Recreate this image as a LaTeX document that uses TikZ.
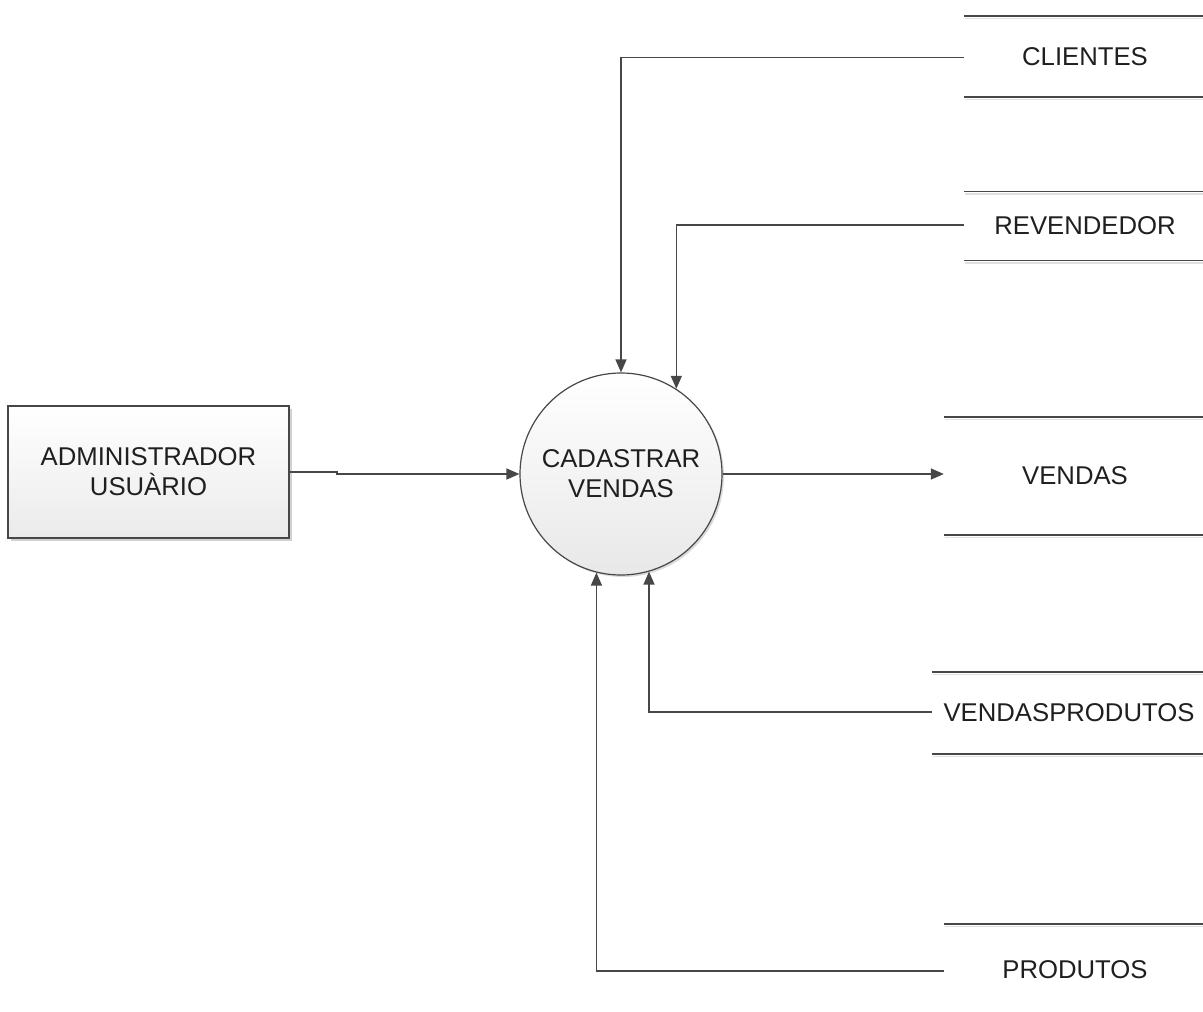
\documentclass[tikz,border=0pt]{standalone}
\usepackage{fontspec}
\setmainfont{Liberation Sans}
\usetikzlibrary{arrows.meta,shadows,calc}
\begin{document}
\begin{tikzpicture}[x=1pt,y=-1pt,
  line/.style={draw=black!72,line width=1.5pt},
  flow/.style={line,-{Triangle[length=13pt,width=11pt]}},
  txt/.style={font=\fontsize{25.7}{30}\selectfont,text=black!88,align=center},
  ent/.style={txt,line,rectangle,minimum width=281pt,minimum height=132pt,inner sep=0pt,
    top color=white,bottom color=black!8,
    drop shadow={shadow xshift=2.5pt,shadow yshift=-2.5pt,fill=black!18,opacity=1}},
  proc/.style={txt,line,circle,line width=1.2pt,minimum size=202pt,inner sep=0pt,
    top color=white,bottom color=black!9,
    drop shadow={shadow xshift=2pt,shadow yshift=-2pt,fill=black!14,opacity=1}},
  store/.style={txt,inner sep=0pt}]
\useasboundingbox (0,0) rectangle (1203,1012);
% entity and process
\node[ent] (adm) at (148.5,472) {ADMINISTRADOR\\USU\`ARIO};
\node[proc] (cad) at (621,474) {CADASTRAR\\VENDAS};
% data stores
\node[store,minimum width=242pt,minimum height=81pt] (cli) at (1085,56.5) {CLIENTES};
\node[store,minimum width=242pt,minimum height=69pt] (rev) at (1085,226) {REVENDEDOR};
\node[store,minimum width=262pt,minimum height=118pt] (ven) at (1075,476) {VENDAS};
\node[store,minimum width=274pt,minimum height=82pt] (vp) at (1069,713) {VENDASPRODUTOS};
\node[store,minimum width=262pt,minimum height=92pt] (pro) at (1075,970) {PRODUTOS};
\foreach \s in {cli,rev,ven,vp}{
  \draw[black!12,line width=1.5pt] ($(\s.north west)+(1,2.5)$) -- ($(\s.north east)+(0,2.5)$);
  \draw[black!12,line width=1.5pt] ($(\s.south west)+(1,2.5)$) -- ($(\s.south east)+(0,2.5)$);
  \draw[line] (\s.north west) -- (\s.north east);
  \draw[line] (\s.south west) -- (\s.south east);
}
\draw[black!12,line width=1.5pt] ($(pro.north west)+(1,2.5)$) -- ($(pro.north east)+(0,2.5)$);
\draw[line] (pro.north west) -- (pro.north east);
% connectors
\coordinate (jog) at (337,472);
\draw[flow] (adm.east) -- (jog) -- ++(0,2) -- (cad.west);
\draw[flow] (cad.east) -- (cad.east -| ven.west);
\draw[flow] ($(cli.west)+(0,1)$) -| (cad.north);
\draw[flow] ($(rev.west)+(0,-1)$) -| (cad.57.7);
\draw[flow] ($(vp.west)+(0,-1)$) -| (cad.-74.5);
\draw[flow] ($(pro.west)+(0,1)$) -| (cad.-104.9);
\end{tikzpicture}
\end{document}
